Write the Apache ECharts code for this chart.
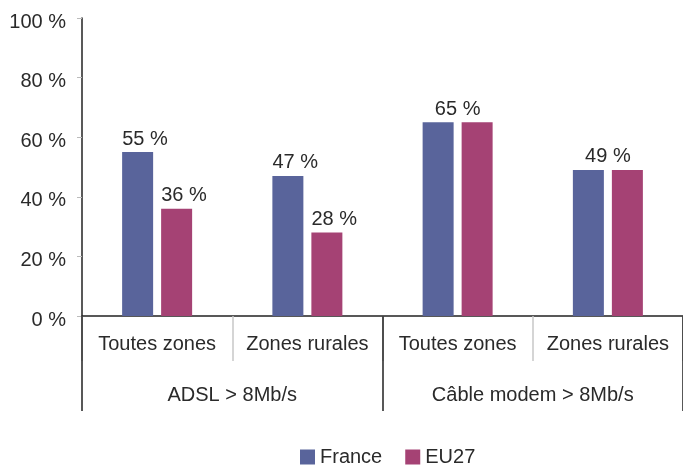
<!DOCTYPE html>
<html>
<head>
<meta charset="utf-8">
<script src="https://cdn.jsdelivr.net/npm/echarts@6/dist/echarts.min.js"></script>
<style>
  html, body { margin: 0; padding: 0; background: #fff; }
  #chart { width: 683px; height: 465px; }
</style>
</head>
<body>
<div id="chart"></div>
<script>
// Zones inside each technology, then the two technology groups
var zones = ['Toutes zones', 'Zones rurales', 'Toutes zones', 'Zones rurales'];
var groups = ['ADSL > 8Mb/s', 'Câble modem > 8Mb/s'];
var seriesNames = ['France', 'EU27'];
var france = [55, 47, 65, 49];
var eu27 = [36, 28, 65, 49];
var yTicks = [0, 20, 40, 60, 80, 100];

var FONT = 'Liberation Sans';
var FS = 20;
var TEXT = '#2a2a2a';
var BAR_W = 31;
var GAP = 8;

// Where both series share a value, one label is centred over the pair
function buildData(values, other, isFirst) {
  return values.map(function (v, i) {
    var shared = v === other[i];
    if (shared) {
      return {
        value: v,
        label: isFirst
          ? { show: true, align: 'center', offset: [(BAR_W + GAP) / 2, 0] }
          : { show: false }
      };
    }
    return { value: v };
  });
}

var labelStyle = {
  show: true,
  position: 'top',
  align: 'left',
  offset: [-BAR_W / 2, 0],
  distance: 3,
  formatter: '{c} %',
  fontFamily: FONT,
  fontSize: FS,
  color: TEXT
};

var chart = echarts.init(document.getElementById('chart'));
chart.setOption({
  animation: false,
  textStyle: { fontFamily: FONT },
  color: ['#59649b', '#a54274'],
  grid: { left: 82, right: -3, top: 18, bottom: 149, containLabel: false },
  legend: {
    data: seriesNames,
    top: 447,
    left: 300,
    padding: 0,
    itemWidth: 15,
    itemHeight: 15,
    itemGap: 23,
    icon: 'rect',
    textStyle: { fontFamily: FONT, fontSize: FS, color: TEXT }
  },
  xAxis: [
    {
      type: 'category',
      data: zones,
      position: 'bottom',
      axisLine: { show: true, lineStyle: { color: '#222', width: 1.5 } },
      axisTick: { show: true, interval: 0, length: 45, lineStyle: { color: '#c8c8c8', width: 1.5 } },
      axisLabel: { interval: 0, margin: 18, fontFamily: FONT, fontSize: FS, color: TEXT }
    },
    {
      type: 'category',
      data: groups,
      position: 'bottom',
      offset: 0,
      axisLine: { show: false },
      axisTick: { show: true, interval: 0, length: 95, lineStyle: { color: '#222', width: 1.5 } },
      axisLabel: { interval: 0, margin: 69, fontFamily: FONT, fontSize: FS, color: TEXT }
    }
  ],
  yAxis: {
    type: 'value',
    min: yTicks[0],
    max: yTicks[yTicks.length - 1],
    interval: 20,
    axisLine: { show: true, lineStyle: { color: '#222', width: 1.5 } },
    axisTick: { show: true, length: 5, lineStyle: { color: '#bbb' } },
    splitLine: { show: false },
    axisLabel: {
      formatter: '{value} %',
      margin: 16,
      verticalAlign: 'top',
      lineHeight: 8,
      fontFamily: FONT,
      fontSize: FS,
      color: TEXT
    }
  },
  series: [
    {
      name: seriesNames[0],
      type: 'bar',
      xAxisIndex: 0,
      barWidth: BAR_W,
      barGap: (GAP / BAR_W * 100) + '%',
      label: labelStyle,
      data: buildData(france, eu27, true)
    },
    {
      name: seriesNames[1],
      type: 'bar',
      xAxisIndex: 0,
      barWidth: BAR_W,
      label: labelStyle,
      data: buildData(eu27, france, false)
    }
  ]
});
</script>
</body>
</html>
